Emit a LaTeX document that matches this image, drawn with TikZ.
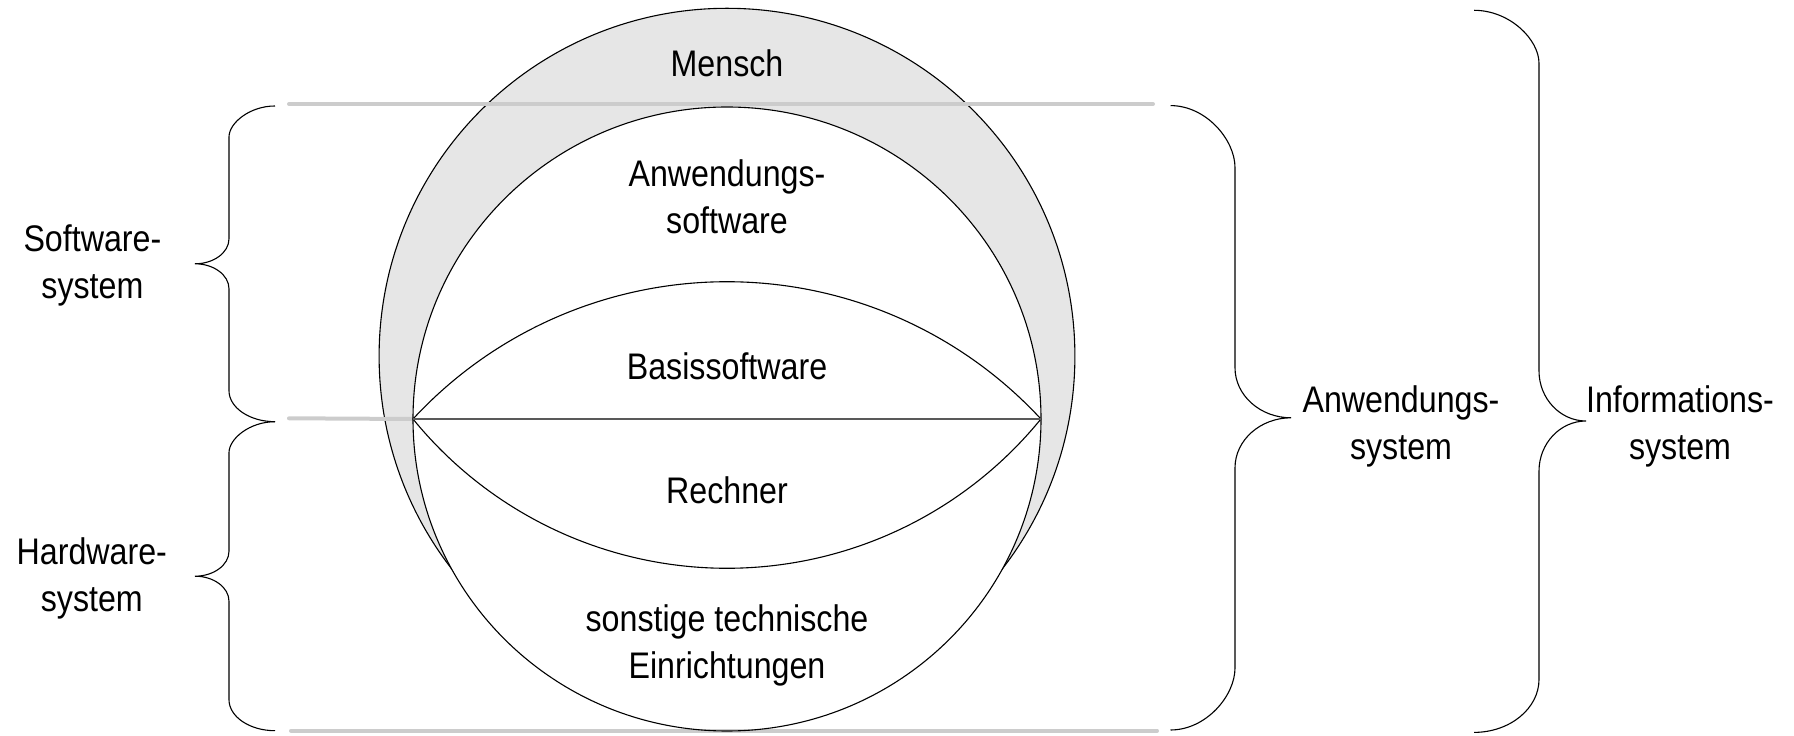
\documentclass[tikz,border=0pt]{standalone}
\usepackage{fontspec}
\setmainfont[FakeStretch=0.87]{Liberation Sans}
\definecolor{fillgray}{HTML}{E6E6E6}
\definecolor{guidegray}{HTML}{CCCCCC}
\definecolor{darkgray}{HTML}{595959}
\begin{document}
\begin{tikzpicture}[x=1pt,y=1pt,
  outline/.style={draw=black, line width=1.1pt},
  guide/.style={draw=guidegray, line width=4pt, line cap=round},
  diam/.style={draw=darkgray, line width=1.8pt},
  bracestyle/.style={draw=black, line width=1.1pt},
  lbl/.style={font=\fontsize{37}{47}\selectfont, align=center, anchor=base, inner sep=0pt}]
\useasboundingbox (0,0) rectangle (1794,736);
% centres and lens vertices
\coordinate (oc) at (727,379.8);
\coordinate (ic) at (727,317);
\coordinate (vw) at (413,317);
\coordinate (ve) at (1041,317);
% outer circle (Informationssystem)
\fill[fillgray] (oc) circle[radius=347.9pt];
\draw[outline] (oc) circle[radius=347.9pt];
% inner circle (Anwendungssystem)
\fill[white] (ic) ellipse[x radius=314pt, y radius=312pt];
% guide lines
\coordinate (g1a) at (289,632);   \coordinate (g1b) at (1153,632);
\coordinate (g2a) at (289,317.7);
\coordinate (g3a) at (291,5.3);   \coordinate (g3b) at (1157,5.3);
\draw[guide] (g1a) -- (g1b);
\draw[guide] (g2a) -- (vw);
\draw[guide] (g3a) -- (g3b);
\draw[outline] (ic) ellipse[x radius=314pt, y radius=312pt];
% lens
\draw[outline] (vw) arc[start angle=137.23, end angle=42.77, radius=427.7pt];
\draw[outline] (vw) arc[start angle=219.14, end angle=320.86, radius=404.8pt];
\draw[diam] (vw) -- (ve);
% braces
\draw[bracestyle] (275,630) .. controls (249.7,630) and (229,613) .. (229,599)
  -- (229,497.2) .. controls (229,483.4) and (213.7,472.2) .. (195,472.2)
  .. controls (213.7,472.2) and (229,461) .. (229,447.2)
  -- (229,345.3) .. controls (229,328.3) and (249.7,314.3) .. (275,314.3);
\draw[bracestyle] (275,314.3) .. controls (249.7,314.3) and (229,297.3) .. (229,283.3)
  -- (229,184.8) .. controls (229,171) and (213.7,159.8) .. (195,159.8)
  .. controls (213.7,159.8) and (229,148.6) .. (229,134.8)
  -- (229,36.3) .. controls (229,19.3) and (249.7,5.3) .. (275,5.3);
\draw[bracestyle] (1170.5,630.4) .. controls (1206,630.4) and (1235,596.3) .. (1235,568.4)
  -- (1235,368.2) .. controls (1235,340.7) and (1260.2,318.2) .. (1291,318.2)
  .. controls (1260.2,318.2) and (1235,295.7) .. (1235,268.2)
  -- (1235,68) .. controls (1235,40.1) and (1206,6) .. (1170.5,6);
\draw[bracestyle] (1474,725.7) .. controls (1509.75,725.7) and (1539,696.5) .. (1539,672.7)
  -- (1539,365) .. controls (1539,337.5) and (1560.15,315) .. (1586,315)
  .. controls (1560.15,315) and (1539,292.5) .. (1539,265)
  -- (1539,56.6) .. controls (1539,27.4) and (1509.75,3.6) .. (1474,3.6);
% labels (multi-line nodes: base anchor is on the last line)
\node[lbl] (mensch) at (727,659.3) {Mensch};
\node[lbl] (aws) at (727,502.3) {Anwendungs-\\software};
\node[lbl] (bss) at (727,356) {Basissoftware};
\node[lbl] (rech) at (727,232.7) {Rechner};
\node[lbl] (sonst) at (727,57.3) {sonstige technische\\Einrichtungen};
\node[lbl] (sws) at (92.4,437.3) {Software-\\system};
\node[lbl] (hws) at (91.8,124) {Hardware-\\system};
\node[lbl] (anws) at (1401,276) {Anwendungs-\\system};
\node[lbl] (infs) at (1680,276) {Informations-\\system};
\end{tikzpicture}
\end{document}
